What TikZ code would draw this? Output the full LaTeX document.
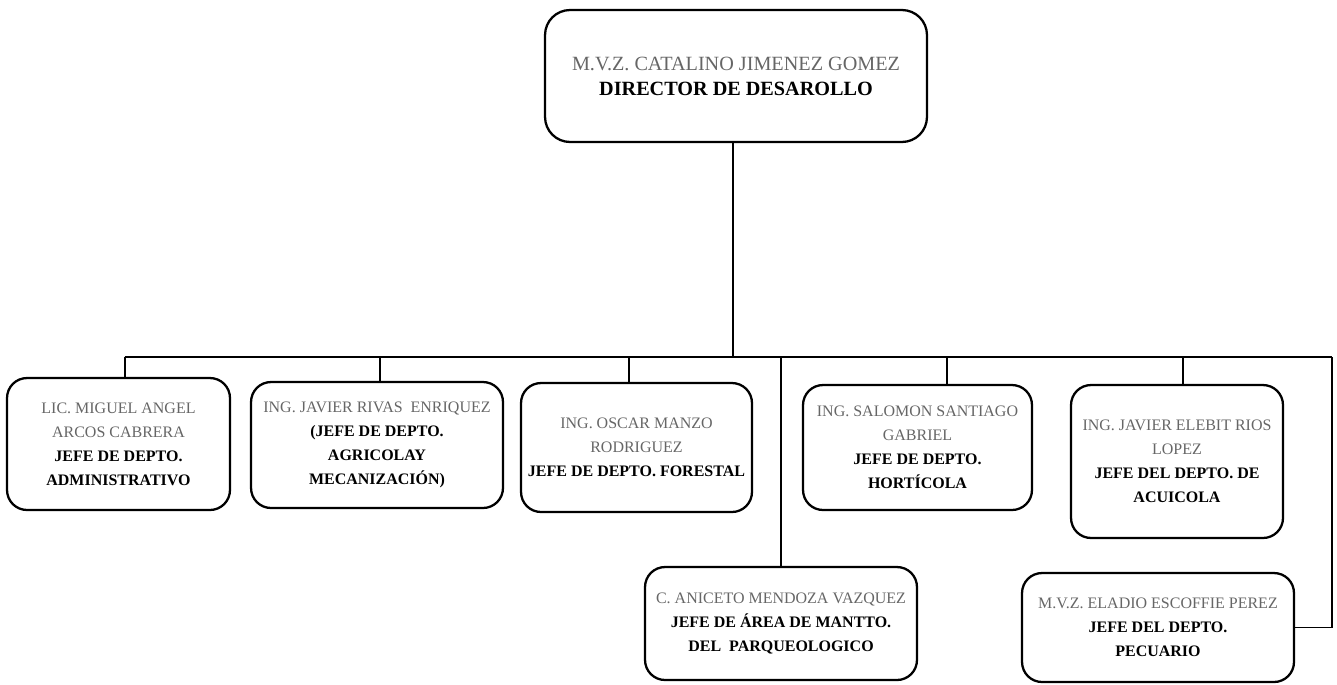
\documentclass[tikz,border=0pt]{standalone}
\usepackage{fontspec}
\setmainfont{Liberation Serif}
\newcommand\cargo[1]{\textbf{\textcolor{black}{#1}}}
\begin{document}
\begin{tikzpicture}
  [x=0.02cm, y=-0.02cm,
  box/.style={draw=black, line width=1.3pt, rounded corners=0.4cm, inner sep=0pt, align=center, text=black!60, font=\fontsize{9.1}{13.6}\selectfont},
  topbox/.style={box, rounded corners=0.5cm, font=\fontsize{11.5}{14.2}\selectfont},
  link/.style={line width=1pt}]

  \useasboundingbox (0,0) rectangle (1337,684);

  \node[topbox, minimum width=7.64cm, minimum height=2.64cm] (dir) at (736,76) {M.V.Z. CATALINO JIMENEZ GOMEZ\\\cargo{DIRECTOR DE DESAROLLO}};

  \node[box, minimum width=4.46cm, minimum height=2.64cm] (adm) at (118.5,444) {LIC. MIGUEL ANGEL\\ARCOS CABRERA\\\cargo{JEFE DE DEPTO.}\\\cargo{ADMINISTRATIVO}};
  \node[box, minimum width=5.04cm, minimum height=2.52cm] (agr) at (377,445) {ING. JAVIER RIVAS~~ENRIQUEZ\\\cargo{(JEFE DE DEPTO.}\\\cargo{AGRICOLAY}\\\cargo{MECANIZACIÓN)}};
  \node[box, minimum width=4.62cm, minimum height=2.58cm] (for) at (636.5,447.5) {ING. OSCAR MANZO\\RODRIGUEZ\\\cargo{JEFE DE DEPTO. FORESTAL}};
  \node[box, minimum width=4.58cm, minimum height=2.5cm] (hor) at (917.5,447.5) {ING. SALOMON SANTIAGO\\GABRIEL\\\cargo{JEFE DE DEPTO.}\\\cargo{HORTÍCOLA}};
  \node[box, minimum width=4.24cm, minimum height=3.06cm] (acu) at (1177,461.5) {ING. JAVIER ELEBIT RIOS\\LOPEZ\\\cargo{JEFE DEL DEPTO. DE}\\\cargo{ACUICOLA}};
  \node[box, minimum width=5.44cm, minimum height=2.26cm] (parq) at (781,623.5) {C. ANICETO MENDOZA VAZQUEZ\\\cargo{JEFE DE ÁREA DE MANTTO.}\\\cargo{DEL~~PARQUEOLOGICO}};
  \node[box, minimum width=5.44cm, minimum height=2.18cm] (pec) at (1158,627.5) {M.V.Z. ELADIO ESCOFFIE PEREZ\\\cargo{JEFE DEL DEPTO.}\\\cargo{PECUARIO}};

  % bus
  \coordinate (busL) at (124.5,357);
  \coordinate (busR) at (1332,357);

  \draw[link] ([xshift=-0.06cm]dir.south) -- ([xshift=-0.06cm]dir.south |- busL);
  \draw[link] (busL) -- (busR);
  \foreach \n/\d in {adm/6.5, agr/3, for/-7.5, hor/29.5, acu/6}
    \draw[link] ([xshift=\d*0.02cm]\n.north) -- ([xshift=\d*0.02cm]\n.north |- busL);
  \draw[link] (parq.north) -- (parq.north |- busL);
  \draw[link] (busR) |- (pec.east);

\end{tikzpicture}
\end{document}
